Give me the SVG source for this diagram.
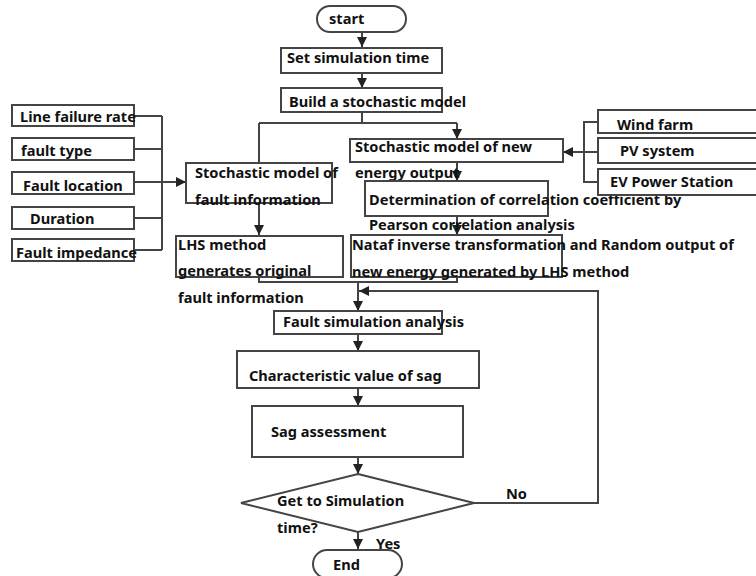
<svg xmlns="http://www.w3.org/2000/svg" width="756" height="576" viewBox="0 0 756 576">
<defs>
<marker id="ah" viewBox="0 0 10 10" refX="10" refY="5" markerWidth="10" markerHeight="10" markerUnits="userSpaceOnUse" orient="auto">
<path d="M0,0 L10,5 L0,10 z" fill="#222"/>
</marker>
<style>
.b{fill:#fff;stroke:#444;stroke-width:2}
.t{font-family:"Noto Sans","Liberation Sans",sans-serif;font-weight:bold;font-size:14.6px;fill:#111}
.c{fill:none;stroke:#444;stroke-width:2}
.a{fill:none;stroke:#444;stroke-width:2;marker-end:url(#ah)}
</style>
</defs>
<rect width="756" height="576" fill="#fff"/>
<g id="connectors">
<path class="a" d="M362 32 V47"/>
<path class="a" d="M362 73 V88"/>
<path class="c" d="M362 112 V123 M259 123 H457 M259 123 V163"/>
<path class="a" d="M457 123 V139"/>
<path class="c" d="M134 116 H162 M134 149 H162 M134 218 H162 M135 250 H162 M162 116 V250"/>
<path class="a" d="M134 182 H186"/>
<path class="a" d="M259 203 V235"/>
<path class="a" d="M457 162 V181"/>
<path class="a" d="M457 216 V235"/>
<path class="c" d="M259 276 V282 H457 V278"/>
<path class="a" d="M358 282 V311"/>
<path class="a" d="M358 334 V351"/>
<path class="a" d="M358 388 V406"/>
<path class="a" d="M358 457 V474"/>
<path class="a" d="M358 532 V549"/>
<path class="a" d="M474 503 H598 V291 H359"/>
<path class="c" d="M598 122 H584 V182 H598 M598 152 H584"/>
<path class="a" d="M584 152 H563"/>
</g>
<g id="start"><rect class="b" x="317" y="6" width="89" height="26" rx="13"/><text class="t" x="329" y="24">start</text></g>
<g id="set-time"><rect class="b" x="281" y="48" width="161" height="25"/><text class="t" x="287" y="63">Set simulation time</text></g>
<g id="build"><rect class="b" x="281" y="88" width="161" height="24"/><text class="t" x="289" y="107">Build a stochastic model</text></g>
<g id="line-failure"><rect class="b" x="12" y="105" width="122" height="21"/><text class="t" x="20" y="122">Line failure rate</text></g>
<g id="fault-type"><rect class="b" x="12" y="138" width="122" height="22"/><text class="t" x="21" y="156">fault type</text></g>
<g id="fault-location"><rect class="b" x="12" y="172" width="122" height="22"/><text class="t" x="23" y="191">Fault location</text></g>
<g id="duration"><rect class="b" x="12" y="207" width="122" height="22"/><text class="t" x="30" y="224">Duration</text></g>
<g id="fault-impedance"><rect class="b" x="12" y="239" width="122" height="22"/><text class="t" x="16" y="258">Fault impedance</text></g>
<g id="fault-model"><rect class="b" x="186" y="163" width="146" height="40"/><text class="t" x="195" y="178">Stochastic model of</text><text class="t" x="195" y="205">fault information</text></g>
<g id="lhs"><rect class="b" x="176" y="236" width="167" height="41"/><text class="t" x="178" y="250">LHS method</text><text class="t" x="178" y="276">generates original</text><text class="t" x="178" y="303">fault information</text></g>
<g id="energy-model"><rect class="b" x="350" y="139" width="213" height="23"/><text class="t" x="355" y="152">Stochastic model of new</text><text class="t" x="355" y="178">energy output</text></g>
<g id="determination"><rect class="b" x="365" y="181" width="183" height="35"/><text class="t" x="369" y="205">Determination of correlation coefficient by</text><text class="t" x="369" y="230">Pearson correlation analysis</text></g>
<g id="nataf"><rect class="b" x="351" y="235" width="211" height="42"/><text class="t" x="352" y="250">Nataf inverse transformation and Random output of</text><text class="t" x="352" y="277">new energy generated by LHS method</text></g>
<g id="wind"><rect class="b" x="598" y="110" width="170" height="23"/><text class="t" x="617" y="130">Wind farm</text></g>
<g id="pv"><rect class="b" x="598" y="138" width="170" height="25"/><text class="t" x="620" y="156">PV system</text></g>
<g id="ev"><rect class="b" x="598" y="169" width="170" height="26"/><text class="t" x="610" y="187">EV Power Station</text></g>
<g id="fault-sim"><rect class="b" x="274" y="311" width="168" height="23"/><text class="t" x="283" y="327">Fault simulation analysis</text></g>
<g id="characteristic"><rect class="b" x="237" y="351" width="242" height="37"/><text class="t" x="249" y="381">Characteristic value of sag</text></g>
<g id="sag"><rect class="b" x="252" y="406" width="211" height="51"/><text class="t" x="271" y="437">Sag assessment</text></g>
<g id="decision"><path class="b" d="M358 474 L474 503 L358 532 L241 503 Z"/><text class="t" x="277" y="506">Get to Simulation</text><text class="t" x="277" y="533">time?</text></g>
<g id="end"><rect class="b" x="313" y="550" width="89" height="28" rx="14"/><text class="t" x="333" y="570">End</text></g>
<text class="t" x="376" y="549">Yes</text>
<text class="t" x="506" y="499">No</text>
</svg>
